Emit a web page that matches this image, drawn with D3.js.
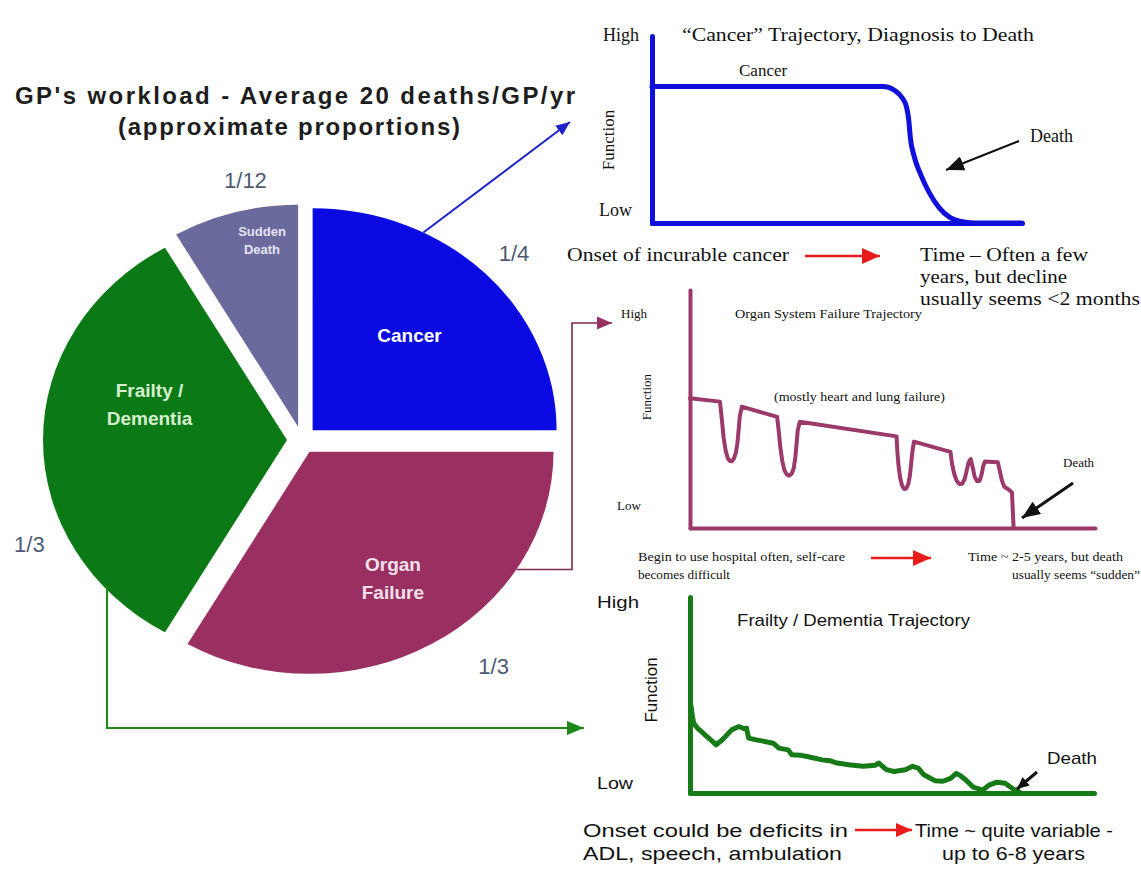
<!DOCTYPE html>
<html>
<head>
<meta charset="utf-8">
<script src="https://cdn.jsdelivr.net/npm/d3@7"></script>
<style>
  body { margin: 0; background: #fff; }
  svg { display: block; }
  .serif { font-family: "Liberation Serif", "Times New Roman", serif; fill: #111; }
  .sans { font-family: "Liberation Sans", Arial, sans-serif; fill: #111; }
</style>
</head>
<body>
<svg id="chart" width="1141" height="889"></svg>
<script>
// Share of a GP's yearly deaths, by illness trajectory
const categories = ["Cancer", "Organ Failure", "Frailty / Dementia", "Sudden Death"];
const shares = [1 / 4, 1 / 3, 1 / 3, 1 / 12];
const shareLabels = ["1/4", "1/3", "1/3", "1/12"];
const sliceLines = [["Cancer"], ["Organ", "Failure"], ["Frailty /", "Dementia"], ["Sudden", "Death"]];

// Function (0 = low, 100 = high) against time (0-100 along each axis)
const cancerTime = [0, 62.5, 65.5, 67.6, 68.8, 69.4, 69.8, 70.8, 72.6, 75.0, 77.7, 80.5, 83.5, 87, 100];
const cancerFunction = [73, 73, 71, 67, 62, 55, 46, 36, 26, 16, 8, 3, 0.8, 0, 0];

const organTime = [0, 7.4, 7.9, 8.3, 8.8, 9.3, 9.8, 10.3, 10.8, 11.3, 11.7, 12.0, 12.3, 12.8,
  21.5, 21.9, 22.3, 22.8, 23.3, 23.9, 24.5, 25.1, 25.6, 26.0, 26.3, 26.6, 27.1,
  51.0, 51.2, 51.5, 51.9, 52.4, 52.9, 53.4, 53.9, 54.3, 54.6, 54.9, 55.3,
  64.3, 64.7, 65.2, 65.8, 66.5, 67.2, 67.8, 68.3, 68.8, 69.3, 69.8, 70.3, 70.9, 71.5, 72.0, 72.4, 72.8,
  76.0, 76.5, 77.0, 77.6, 78.6, 79.5, 79.9];
const organFunction = [54.5, 53.1, 45, 38, 32.5, 29.5, 28.2, 28, 29, 31.5, 35.5, 41, 47, 51,
  46.7, 41, 34, 28, 24.3, 22.5, 22, 22.8, 25, 29.5, 35, 41, 44.6,
  38.5, 32, 26, 21, 17.6, 16.4, 16.6, 18.5, 22, 27, 32, 36.3,
  32, 27, 23, 20, 18.5, 18.6, 20.5, 24, 27.6, 29, 25.5, 21.5, 19.6, 19.8, 22.5, 26, 27.9,
  27.6, 24, 20, 17.3, 16.3, 14.9, 0];

const frailtyTime = [0.3, 0.6, 0.9, 1.9, 3.0, 3.7, 5.2, 6.5, 7.6, 8.4, 10.3, 12.1, 13.4, 14.0, 14.5, 16.4,
  17.8, 20.6, 22.0, 24.3, 25.2, 27.5, 29.0, 32.7, 34.6, 36.4, 39.3, 41.0, 43.0, 45.8, 46.7, 48.6, 50.5,
  53.3, 55.1, 56.5, 57.9, 59.5, 60.7, 62.6, 64.5, 65.9, 66.8, 68.2, 70.1, 72.5, 74.0, 76.0, 78.0, 80.0, 81.5];
const frailtyFunction = [44, 39, 35.6, 33, 31, 29.7, 27, 24.6, 26.5, 28, 32.2, 33.9, 32.8, 33.1, 28, 27.1,
  26.6, 25.4, 22.9, 22, 19.5, 19.2, 18.6, 16.9, 16.5, 15.3, 14.4, 14, 13.6, 14.1, 15.3, 11.9, 11,
  11.9, 13.6, 12.7, 9.3, 7.5, 6.3, 6, 7.5, 10, 9, 6.8, 3, 1.5, 4, 5.5, 5, 2, 0.5];

const svg = d3.select("#chart");
const defs = svg.append("defs");

function marker(id, color, len, wid) {
  defs.append("marker")
    .attr("id", id)
    .attr("viewBox", `0 ${-wid / 2} ${len} ${wid}`)
    .attr("refX", len).attr("refY", 0)
    .attr("markerWidth", len).attr("markerHeight", wid)
    .attr("markerUnits", "userSpaceOnUse")
    .attr("orient", "auto")
    .append("path")
    .attr("d", `M0,${-wid / 2}L${len},0L0,${wid / 2}Z`)
    .attr("fill", color);
}
marker("head-blue", "#1c22c8", 14, 12);
marker("head-purple", "#9a3062", 15, 13);
marker("head-green", "#1b8a1b", 17, 14);
marker("head-red", "#e81b1b", 18, 16);
marker("head-red-s", "#e81b1b", 16, 14);
marker("head-black", "#111", 18, 15);
marker("head-black-s", "#111", 12, 11);

// ---------- Pie of approximate proportions ----------
const pieCx = 302, pieCy = 440, R = 244, squash = 0.91, explode = 15;
const sliceColors = ["#0b0ae2", "#9a3062", "#0b7a16", "#6a6a9c"];
const sliceText = ["#ffffff", "#f3e0ea", "#d6efcf", "#e4e4f4"];

const arcs = d3.pie().sort(null).value(d => d)(shares);
const arcGen = d3.arc().innerRadius(0).outerRadius(R);
const mid = d => (d.startAngle + d.endAngle) / 2;

// point in page space for a slice at angle a (radians) and radius r
function slicePoint(d, a, r) {
  const m = mid(d);
  const ox = Math.sin(m) * explode, oy = -Math.cos(m) * explode;
  return [pieCx + ox + Math.sin(a) * r, pieCy + (oy - Math.cos(a) * r) * squash];
}

const pieG = svg.append("g").attr("transform", `translate(${pieCx},${pieCy}) scale(1,${squash})`);
pieG.selectAll("path").data(arcs).join("path")
  .attr("transform", d => `translate(${Math.sin(mid(d)) * explode},${-Math.cos(mid(d)) * explode})`)
  .attr("d", arcGen)
  .attr("fill", (d, i) => sliceColors[i]);

// label placement inside and outside the slices (angle in degrees, radius)
const inside = [{ a: 43, r: 142, fs: 19 }, { a: 149, r: 162, fs: 19 }, { a: 286, r: 143, fs: 19 }, { a: 350, r: 208, fs: 13 }];
const outside = [{ a: 46, r: 280 }, { a: 142, r: 299 }, { a: 246, r: 282 }, { a: 349, r: 276 }];
const rad = Math.PI / 180;

arcs.forEach((d, i) => {
  const p = slicePoint(d, inside[i].a * rad, inside[i].r);
  const lines = sliceLines[i];
  const lh = inside[i].fs * 1.45;
  lines.forEach((t, k) => {
    svg.append("text").attr("class", "sans")
      .attr("x", p[0]).attr("y", p[1] + (k - (lines.length - 1) / 2) * lh)
      .attr("dy", "0.35em").attr("text-anchor", "middle")
      .attr("font-size", inside[i].fs).attr("font-weight", "bold")
      .style("fill", sliceText[i]).text(t);
  });
  const q = slicePoint(d, outside[i].a * rad, outside[i].r);
  svg.append("text").attr("class", "sans")
    .attr("x", q[0]).attr("y", q[1]).attr("dy", "0.35em").attr("text-anchor", "middle")
    .attr("font-size", 22).style("fill", "#4e5a74").text(shareLabels[i]);
});

// title
svg.append("text").attr("class", "sans").attr("x", 295).attr("y", 104)
  .attr("text-anchor", "middle").attr("font-size", 24).attr("font-weight", "bold")
  .attr("textLength", 560).attr("lengthAdjust", "spacing").style("fill", "#1d1d1d")
  .text("GP's workload - Average 20 deaths/GP/yr");
svg.append("text").attr("class", "sans").attr("x", 289).attr("y", 135)
  .attr("text-anchor", "middle").attr("font-size", 24).attr("font-weight", "bold")
  .attr("textLength", 342).attr("lengthAdjust", "spacing").style("fill", "#1d1d1d")
  .text("(approximate proportions)");

// connectors from each slice to its trajectory panel
{
  const p = slicePoint(arcs[0], 27 * rad, R);
  svg.append("path").attr("d", `M${p[0]},${p[1]}L570,122`)
    .attr("stroke", "#1c22c8").attr("stroke-width", 2).attr("fill", "none")
    .attr("marker-end", "url(#head-blue)");
}
{
  const p = slicePoint(arcs[1], 122 * rad, R);
  svg.append("path").attr("d", `M${p[0]},${p[1]}H572V323H612`)
    .attr("stroke", "#7a2a50").attr("stroke-width", 1.6).attr("fill", "none")
    .attr("marker-end", "url(#head-purple)");
}
{
  const a = Math.asin((107 - (pieCx + Math.sin(mid(arcs[2])) * explode)) / R);
  const p = slicePoint(arcs[2], Math.PI - a, R);
  svg.append("path").attr("d", `M107,${p[1] - 4}V728H584`)
    .attr("stroke", "#1b8a1b").attr("stroke-width", 2).attr("fill", "none")
    .attr("marker-end", "url(#head-green)");
}

// ---------- Trajectory panels ----------
function trajectory(cfg) {
  const x = d3.scaleLinear().domain([0, 100]).range([cfg.left, cfg.right]);
  const y = d3.scaleLinear().domain([0, 100]).range([cfg.bottom, cfg.top]);
  const g = svg.append("g");
  const styleAxis = sel => sel.call(s => s.select(".domain")
      .attr("stroke", cfg.color).attr("stroke-width", cfg.width).attr("stroke-linecap", "round"))
    .call(s => s.selectAll(".tick").remove());
  g.append("g").attr("transform", `translate(0,${cfg.bottom})`)
    .call(d3.axisBottom(x).ticks(0).tickSizeOuter(0)).call(styleAxis);
  g.append("g").attr("transform", `translate(${cfg.left},0)`)
    .call(d3.axisLeft(y).ticks(0).tickSizeOuter(0)).call(styleAxis);
  g.append("path")
    .datum(d3.zip(cfg.time, cfg.fn))
    .attr("d", d3.line().x(d => x(d[0])).y(d => y(d[1])).curve(cfg.curve))
    .attr("fill", "none").attr("stroke", cfg.color).attr("stroke-width", cfg.width)
    .attr("stroke-linejoin", "round").attr("stroke-linecap", "round");
  return g;
}

function label(cls, x, y, size, text, opts = {}) {
  const t = svg.append("text").attr("class", cls).attr("x", x).attr("y", y)
    .attr("font-size", size).text(text);
  if (opts.len) t.attr("textLength", opts.len).attr("lengthAdjust", "spacingAndGlyphs");
  if (opts.anchor) t.attr("text-anchor", opts.anchor);
  if (opts.rotate) t.attr("transform", `rotate(-90,${x},${y})`).attr("text-anchor", "middle");
  if (opts.weight) t.attr("font-weight", opts.weight);
  return t;
}
function arrow(x1, y1, x2, y2, color, w, head) {
  svg.append("line").attr("x1", x1).attr("y1", y1).attr("x2", x2).attr("y2", y2)
    .attr("stroke", color).attr("stroke-width", w).attr("marker-end", `url(#${head})`);
}

// Cancer
trajectory({ left: 652, right: 1022, top: 36, bottom: 223, color: "#1010dc", width: 5,
  time: cancerTime, fn: cancerFunction, curve: d3.curveMonotoneX });
label("serif", 603, 41, 18, "High");
label("serif", 682, 41, 18, "\u201cCancer\u201d Trajectory, Diagnosis to Death", { len: 352 });
label("serif", 739, 76, 17, "Cancer");
label("serif", 614, 140, 17, "Function", { rotate: true });
label("serif", 599, 216, 18, "Low");
label("serif", 1030, 142, 18, "Death");
arrow(1019, 141, 946, 170, "#111", 2.2, "head-black");
label("serif", 567, 261, 18, "Onset of incurable cancer", { len: 222 });
arrow(805, 256, 880, 256, "#e81b1b", 2.5, "head-red");
label("serif", 920, 261, 18, "Time \u2013 Often a few", { len: 168 });
label("serif", 920, 283, 18, "years, but decline", { len: 147 });
label("serif", 920, 305, 18, "usually seems <2 months", { len: 220 });

// Organ failure
trajectory({ left: 690, right: 1095, top: 290, bottom: 528, color: "#9b3a6a", width: 4,
  time: organTime, fn: organFunction, curve: d3.curveLinear });
label("serif", 621, 318, 13, "High");
label("serif", 735, 318, 12.5, "Organ System Failure Trajectory", { len: 187 });
label("serif", 774, 401, 12.5, "(mostly heart and lung failure)", { len: 171 });
label("serif", 651, 397, 13, "Function", { rotate: true });
label("serif", 617, 510, 13, "Low");
label("serif", 1063, 467, 13, "Death");
arrow(1073, 483, 1022, 518, "#111", 3, "head-black");
label("serif", 638, 561, 12.5, "Begin to use hospital often, self-care", { len: 207 });
label("serif", 638, 579, 12.5, "becomes difficult", { len: 92 });
arrow(871, 558, 931, 558, "#e81b1b", 2.5, "head-red");
label("serif", 968, 561, 12.5, "Time ~ 2-5 years, but death", { len: 155 });
label("serif", 1140, 579, 12.5, "usually seems \u201csudden\u201d", { len: 128, anchor: "end" });

// Frailty / dementia
trajectory({ left: 690, right: 1094, top: 597, bottom: 793, color: "#167a16", width: 5,
  time: frailtyTime, fn: frailtyFunction, curve: d3.curveLinear });
label("sans", 597, 608, 17, "High", { len: 42 });
label("sans", 737, 626, 17, "Frailty / Dementia Trajectory", { len: 233 });
label("sans", 657, 690, 17, "Function", { rotate: true });
label("sans", 597, 789, 17, "Low", { len: 36 });
label("sans", 1047, 764, 17, "Death", { len: 50 });
arrow(1037, 772, 1017, 789, "#111", 3, "head-black-s");
label("sans", 583, 837, 19, "Onset could be deficits in", { len: 265 });
label("sans", 583, 860, 19, "ADL, speech, ambulation", { len: 259 });
arrow(855, 830, 912, 830, "#e81b1b", 2.5, "head-red-s");
label("sans", 915, 837, 19, "Time ~ quite variable -", { len: 198 });
label("sans", 942, 860, 19, "up to 6-8 years", { len: 143 });
</script>
</body>
</html>
